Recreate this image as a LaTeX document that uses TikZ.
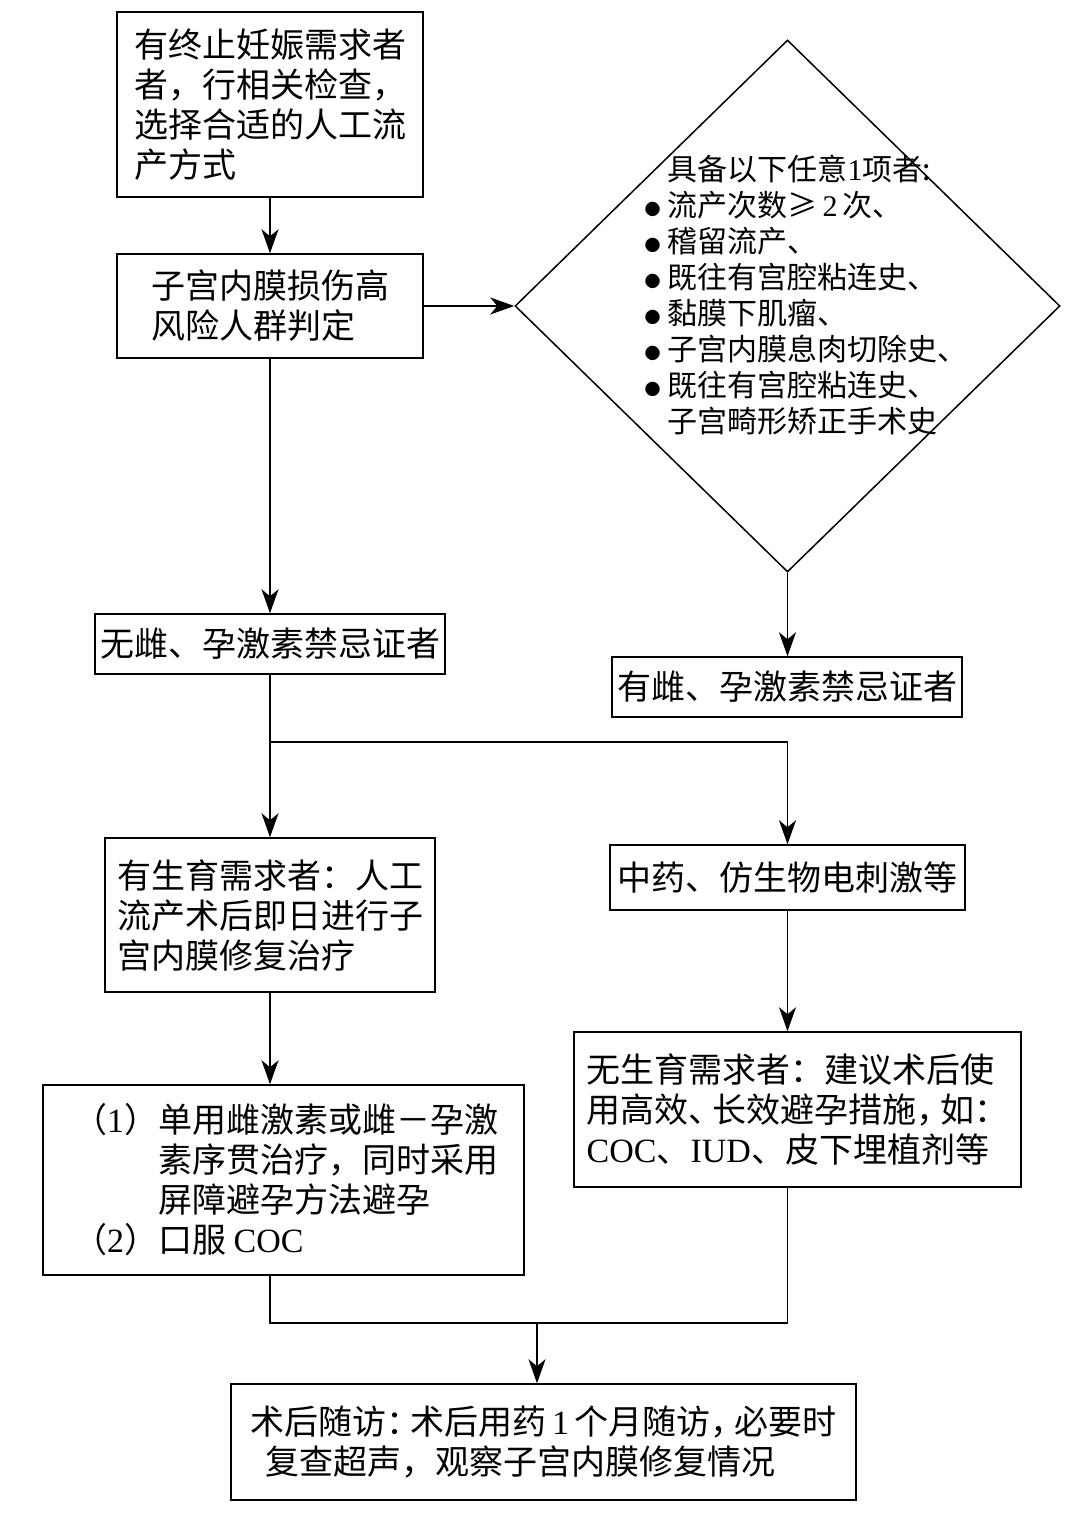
\documentclass[tikz,border=0pt]{standalone}
\usepackage{fontspec}
\setmainfont{Noto Sans CJK SC}
\newfontfamily\lat{Liberation Serif}
\usetikzlibrary{shapes.geometric,arrows.meta}
\newcommand\hw[1]{\makebox[0.7em][l]{#1}}
\newcommand\blt{\makebox[23pt][l]{\raisebox{1pt}{\fontsize{16pt}{16pt}\selectfont ●}}}
\tikzset{
  box/.style={draw, line width=1.5pt, align=left, inner sep=0pt,
    font=\fontsize{34pt}{40pt}\selectfont},
  crit/.style={align=left, inner sep=0pt, font=\fontsize{30pt}{36pt}\selectfont},
}
\begin{document}
\begin{tikzpicture}[x=1pt,y=-1pt,line width=1.5pt,>={Stealth[length=24pt,width=17pt,inset=7pt]}]
      \useasboundingbox (0,0) rectangle (1080,1514);
      \draw
        (270,104.5) node[box,minimum width=306pt,minimum height=185pt] (ask)
          {有终止妊娠需求者\\者，行相关检查，\\选择合适的人工流\\产方式}
        (270,306) node[box,minimum width=306pt,minimum height=104pt] (risk)
          {子宫内膜损伤高\\风险人群判定}
        (787.5,306) node[draw,shape=diamond,inner sep=0pt,minimum width=545pt,minimum height=532pt] (dia) {}
        (806,295) node[crit] (items)
          {\hspace*{23pt}具备以下任意{\lat 1}项者:\\
           \blt 流产次数≥\,{\lat 2}\,次、\\
           \blt 稽留流产、\\
           \blt 既往有宫腔粘连史、\\
           \blt 黏膜下肌瘤、\\
           \blt 子宫内膜息肉切除史、\\
           \blt 既往有宫腔粘连史、\\
           \hspace*{23pt}子宫畸形矫正手术史}
        (270,644) node[box,minimum width=350pt,minimum height=60pt] (nocontra)
          {无雌、孕激素禁忌证者}
        (787,687) node[box,minimum width=350pt,minimum height=60pt] (contra)
          {有雌、孕激素禁忌证者}
        (270,915) node[box,minimum width=330pt,minimum height=154pt] (hope)
          {有生育需求者：人工\\流产术后即日进行子\\宫内膜修复治疗}
        (787.5,877.5) node[box,minimum width=355pt,minimum height=65pt] (tcm)
          {中药、仿生物电刺激等}
        (797.5,1109.5) node[box,minimum width=447pt,minimum height=155pt] (nofert)
          {无生育需求者：建议术后使\\用高效\hw{、}长效避孕措施\hw{，}如：\\{\lat COC}、{\lat IUD}、皮下埋植剂等}
        (283.5,1180) node[box,minimum width=481pt,minimum height=190pt] (meds)
          {\hspace*{16pt}\makebox[73pt][r]{（{\lat 1}）}单用雌激素或雌－孕激\\
           \hspace*{89pt}素序贯治疗，同时采用\\
           \hspace*{89pt}屏障避孕方法避孕\\
           \hspace*{16pt}\makebox[73pt][r]{（{\lat 2}）}口服 {\lat COC}}
        (543.5,1442) node[box,minimum width=625pt,minimum height=116pt] (follow)
          {术后随访\hw{：}术后用药\,{\lat 1}\,个月随访\hw{，}必要时\\\hspace*{15pt}复查超声，观察子宫内膜修复情况};
      \coordinate (split) at (270,742);
      \coordinate (join) at (537,1323);
      \begin{scope}[->]
        \draw (ask) to (risk);
        \draw (risk.east) to (dia.west);
        \draw (risk) to (nocontra);
        \draw (dia.south) to (dia.south |- contra.north);
        \draw (split) to (split |- hope.north);
        \draw (split) -| (tcm.north);
        \draw (hope.south) to (hope.south |- meds.north);
        \draw (tcm.south) to (tcm.south |- nofert.north);
        \draw (join) to (join |- follow.north);
      \end{scope}
      \begin{scope}[-]
        \draw (nocontra) to (split);
        \draw (meds.south -| hope.south) |- (join);
        \draw (nofert.south -| tcm.south) |- (join);
      \end{scope}
\end{tikzpicture}
\end{document}
